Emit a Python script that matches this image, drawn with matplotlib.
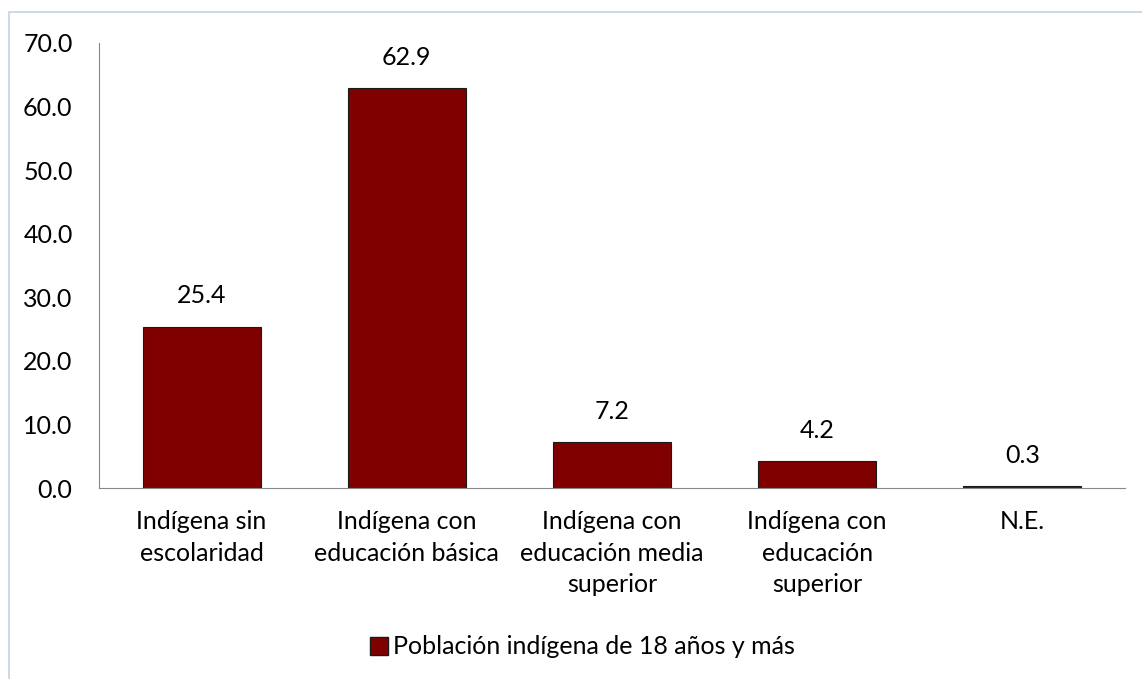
import matplotlib.pyplot as plt
from matplotlib.patches import Rectangle, Patch

plt.rcParams['font.family'] = ['Lato', 'DejaVu Sans']

categories = ["Indígena sin\nescolaridad", "Indígena con\neducación básica",
              "Indígena con\neducación media\nsuperior", "Indígena con\neducación\nsuperior",
              "N.E."]
values = [25.4, 62.9, 7.2, 4.2, 0.3]
series_name = "Población indígena de 18 años y más"
bar_color = "#800000"
fs = 18

fig = plt.figure(figsize=(11.42, 6.79), dpi=100)
# light frame around the chart area
fig.patches.append(Rectangle((9 / 1142, -0.01), 1.0, 1 - 12 / 679 + 0.01,
                             transform=fig.transFigure, fill=False,
                             edgecolor="#c5d3e0", linewidth=1.2))

ax = fig.add_axes([99 / 1142, 1 - 488 / 679, (1125 - 99) / 1142, (488 - 43) / 679])
x = range(len(categories))
ax.bar(x, values, width=0.575, color=bar_color, edgecolor="#1a1a1a", linewidth=0.8)

for xi, v in zip(x, values):
    ax.annotate(f"{v:.1f}", (xi, v), xytext=(0, 14), textcoords="offset points",
                ha="center", va="bottom", fontsize=fs)

ax.set_xlim(-0.5, len(categories) - 0.5)
ax.set_ylim(0, 70)
ax.set_yticks(range(0, 71, 10))
ax.set_yticklabels([f"{t:.1f}" for t in range(0, 71, 10)], fontsize=fs)
ax.set_xticks(list(x))
ax.set_xticklabels(categories, fontsize=fs, linespacing=1.45, va="top")
ax.tick_params(axis="x", length=0, pad=16)
ax.tick_params(axis="y", length=0, pad=19)

for s in ["top", "right"]:
    ax.spines[s].set_visible(False)
ax.spines["left"].set_color("#888888")
ax.spines["bottom"].set_color("#888888")

fig.legend(handles=[Patch(facecolor=bar_color, edgecolor="#1a1a1a", label=series_name)],
           loc="center", bbox_to_anchor=(0.51, 1 - 647 / 679), frameon=False,
           fontsize=fs, handlelength=0.7, handleheight=0.7, handletextpad=0.2)

fig.savefig("out.png", dpi=100)
